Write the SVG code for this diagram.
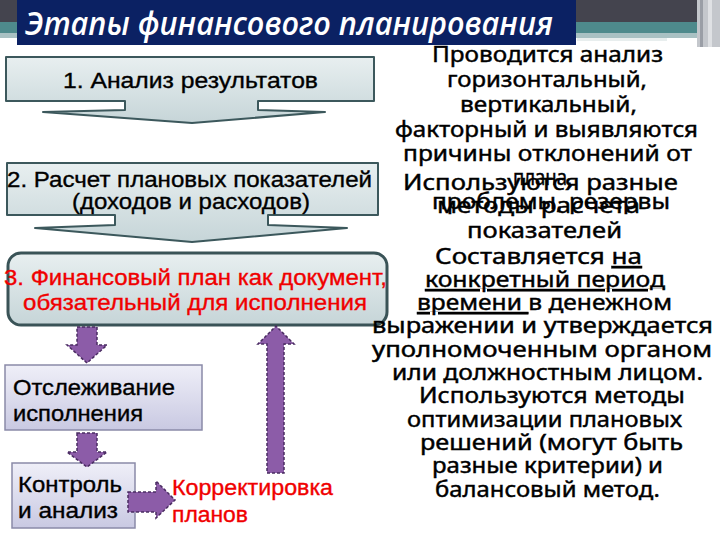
<svg xmlns="http://www.w3.org/2000/svg" width="720" height="540" viewBox="0 0 720 540">
<defs>
<linearGradient id="gBox" x1="0" y1="0" x2="0" y2="1">
<stop offset="0" stop-color="#e8eff0"/>
<stop offset="1" stop-color="#c6d5d8"/>
</linearGradient>
<linearGradient id="gLav" x1="0" y1="0" x2="0" y2="1">
<stop offset="0" stop-color="#efeff8"/>
<stop offset="1" stop-color="#c9c9e2"/>
</linearGradient>
<style>
.box{fill:url(#gBox);stroke:#3c585c;stroke-width:2;stroke-linejoin:round}
.box3{fill:url(#gBox);stroke:#3a5357;stroke-width:3}
.lav{fill:url(#gLav);stroke:#8a8aa8;stroke-width:1.5}
.parr{fill:#8c5ca8;stroke:#4a2c62;stroke-width:1.5;stroke-dasharray:3 2}
.t{font-family:"Liberation Sans",Arial,sans-serif;font-size:22px;fill:#000;stroke:#000;stroke-width:0.35}
.r{font-family:"Liberation Sans",Arial,sans-serif;font-size:22px;fill:#f00000;stroke:#f00000;stroke-width:0.35}
.rt{font-family:"Noto Sans","DejaVu Sans",sans-serif;font-size:22px;fill:#000;stroke:#000;stroke-width:0.45;text-anchor:start}
.title{font-family:"Open Sans","Noto Sans",sans-serif;font-style:italic;font-weight:600;font-size:33px;fill:#fff}
</style>
</defs>
<rect width="720" height="540" fill="#ffffff"/>
<g id="header">
<rect x="0" y="0" width="700" height="22" fill="#44444e"/>
<rect x="0" y="22" width="700" height="11" fill="#4e8a8c"/>
<rect x="0" y="33" width="700" height="5" fill="#a9c1c3"/>
<rect x="577" y="38" width="90" height="3" fill="#e8eeee"/>
<rect x="697" y="0" width="23" height="47" fill="#c4c7cc"/>
<rect x="700" y="0" width="3" height="47" fill="#9a9ea6"/>
<rect x="708" y="0" width="4" height="47" fill="#dfe1e4"/>
<rect x="17" y="0" width="559" height="45" fill="#0b2163"/>
<text class="title" x="25" y="35" textLength="528" lengthAdjust="spacingAndGlyphs">Этапы финансового планирования</text>
</g>
<g id="step1">
<path class="box" d="M6,57 H374 V101 H258 V110 L325,112 L192,123 L43,112 L125,110 V101 H6 Z"/>
<text class="t" x="63" y="88" textLength="255" lengthAdjust="spacingAndGlyphs">1. Анализ результатов</text>
</g>
<g id="step2">
<path class="box" d="M7,163 H378 V215 H268 V225 L347,228 L192,242 L35,228 L115,225 V215 H7 Z"/>
<text class="t" x="7" y="187" textLength="365" lengthAdjust="spacingAndGlyphs">2. Расчет плановых показателей</text>
<text class="t" x="72" y="209" textLength="238" lengthAdjust="spacingAndGlyphs">(доходов и расходов)</text>
</g>
<g id="step3">
<rect class="box3" x="8" y="253" width="379" height="72" rx="13"/>
<text class="r" x="4" y="285" textLength="383" lengthAdjust="spacingAndGlyphs">3. Финансовый план как документ,</text>
<text class="r" x="23" y="310" textLength="344" lengthAdjust="spacingAndGlyphs">обязательный для исполнения</text>
</g>
<g id="monitor">
<rect class="lav" x="5" y="365" width="197" height="65"/>
<text class="t" x="13" y="395" textLength="162" lengthAdjust="spacingAndGlyphs">Отслеживание</text>
<text class="t" x="13" y="421" textLength="130" lengthAdjust="spacingAndGlyphs">исполнения</text>
</g>
<g id="control">
<rect class="lav" x="12" y="463" width="123" height="65"/>
<text class="t" x="18" y="492" textLength="104" lengthAdjust="spacingAndGlyphs">Контроль</text>
<text class="t" x="18" y="518" textLength="100" lengthAdjust="spacingAndGlyphs">и анализ</text>
</g>
<g id="correction">
<text class="r" x="172" y="495" textLength="161" lengthAdjust="spacingAndGlyphs">Корректировка</text>
<text class="r" x="172" y="522" textLength="76" lengthAdjust="spacingAndGlyphs">планов</text>
</g>
<g id="connectors">
<path class="parr" d="M77,327 H97 V345 H107 L87,363 L67,345 H77 Z"/>
<path class="parr" d="M77,433 H97 V452 H107 L87,467 L67,452 H77 Z"/>
<path class="parr" d="M128,492 H156 V481 L175,500 L156,518 V512 H128 Z"/>
<path class="parr" d="M267,473 H284 V344 H294 L276,326 L258,344 H267 Z"/>
</g>
<g id="notes">
<text class="rt" x="432" y="62" textLength="231" lengthAdjust="spacingAndGlyphs">Проводится анализ</text>
<text class="rt" x="447" y="87" textLength="200" lengthAdjust="spacingAndGlyphs">горизонтальный,</text>
<text class="rt" x="460" y="112" textLength="177" lengthAdjust="spacingAndGlyphs">вертикальный,</text>
<text class="rt" x="395" y="137" textLength="303" lengthAdjust="spacingAndGlyphs">факторный и выявляются</text>
<text class="rt" x="403" y="161" textLength="289" lengthAdjust="spacingAndGlyphs">причины отклонений от</text>
<text class="rt" x="513" y="185" textLength="59" lengthAdjust="spacingAndGlyphs">плана,</text>
<text class="rt" x="432" y="209" textLength="238" lengthAdjust="spacingAndGlyphs">проблемы, резервы</text>
<text class="rt" x="403" y="190" textLength="275" lengthAdjust="spacingAndGlyphs">Используются разные</text>
<text class="rt" x="437" y="213" textLength="203" lengthAdjust="spacingAndGlyphs">методы расчета</text>
<text class="rt" x="467" y="238" textLength="155" lengthAdjust="spacingAndGlyphs">показателей</text>
<text class="rt" x="435" y="264" textLength="207" lengthAdjust="spacingAndGlyphs">Составляется <tspan text-decoration="underline">на</tspan></text>
<text class="rt" x="425" y="287" textLength="240" lengthAdjust="spacingAndGlyphs" text-decoration="underline">конкретный период</text>
<text class="rt" x="417" y="310" textLength="255" lengthAdjust="spacingAndGlyphs"><tspan text-decoration="underline">времени </tspan>в денежном</text>
<text class="rt" x="372" y="333" textLength="341" lengthAdjust="spacingAndGlyphs">выражении и утверждается</text>
<text class="rt" x="372" y="357" textLength="340" lengthAdjust="spacingAndGlyphs">уполномоченным органом</text>
<text class="rt" x="392" y="380" textLength="311" lengthAdjust="spacingAndGlyphs">или должностным лицом.</text>
<text class="rt" x="419" y="403" textLength="266" lengthAdjust="spacingAndGlyphs">Используются методы</text>
<text class="rt" x="407" y="427" textLength="275" lengthAdjust="spacingAndGlyphs">оптимизации плановых</text>
<text class="rt" x="420" y="450" textLength="263" lengthAdjust="spacingAndGlyphs">решений (могут быть</text>
<text class="rt" x="432" y="473" textLength="231" lengthAdjust="spacingAndGlyphs">разные критерии) и</text>
<text class="rt" x="435" y="497" textLength="225" lengthAdjust="spacingAndGlyphs">балансовый метод.</text>
</g>
</svg>
